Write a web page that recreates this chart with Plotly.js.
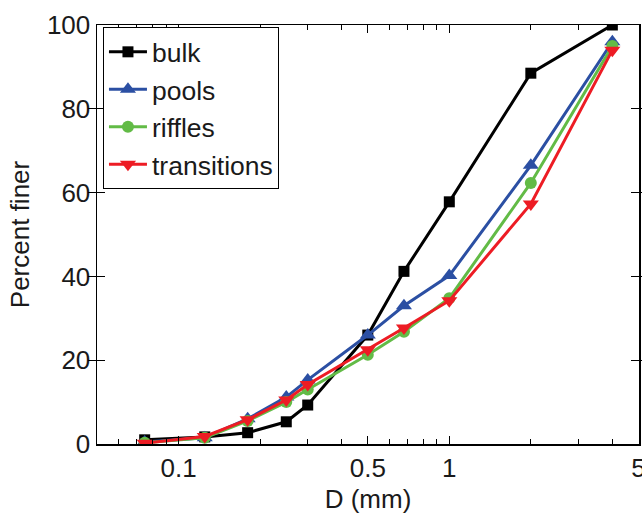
<!DOCTYPE html>
<html>
<head>
<meta charset="utf-8">
<script src="https://cdn.plot.ly/plotly-3.0.1.min.js"></script>
<style>html,body{margin:0;padding:0;background:#fff;}#chart{width:642px;height:516px;}</style>
</head>
<body>
<div id="chart"></div>
<script>
const diameters = [0.075, 0.125, 0.18, 0.25, 0.3, 0.5, 0.68, 1, 2, 4];
const bulk = [1.0, 1.7, 2.7, 5.3, 9.3, 26, 41.2, 57.8, 88.5, 100];
const pools = [0.5, 1.5, 6.0, 11.2, 15.3, 26, 33.0, 40.2, 66.5, 96];
const riffles = [0.3, 1.5, 5.5, 10, 13, 21.3, 26.8, 34.8, 62.3, 95];
const transitions = [0.2, 1.8, 5.8, 10.5, 14.2, 22.5, 27.7, 34.2, 57.3, 94];
const seriesNames = ['bulk', 'pools', 'riffles', 'transitions'];
const xTickVals = [0.1, 0.5, 1, 5];
const xTickText = ['0.1', '0.5', '1', '5'];
const xMinorVals = [0.06, 0.07, 0.08, 0.09, 0.2, 0.3, 0.4, 0.6, 0.7, 0.8, 0.9, 2, 3, 4];

const colors = ['#000000', '#2b4fa3', '#62bb46', '#ed1c24'];
const symbols = ['square', 'triangle-up', 'circle', 'triangle-down'];
const sizes = [11, 14, 12, 14];
const ys = [bulk, pools, riffles, transitions];

const traces = seriesNames.map((n, i) => ({
  x: diameters, y: ys[i], name: n, type: 'scatter', mode: 'lines+markers',
  line: {color: colors[i], width: 3},
  marker: {color: colors[i], symbol: symbols[i], size: sizes[i]}
}));
// invisible helper trace so the top axis (mirror ticks) is drawn
traces.push({x: diameters, y: bulk, xaxis: 'x2', yaxis: 'y', mode: 'markers',
  marker: {opacity: 0}, showlegend: false, hoverinfo: 'skip'});

const fam = 'Liberation Sans, Arial, sans-serif';
const txt = '#1a1a1a';
const xRange = [Math.log10(0.05), Math.log10(5) + 0.0015];
const layout = {
  width: 642, height: 516,
  margin: {l: 97, r: 3, t: 25, b: 72},
  paper_bgcolor: '#fff', plot_bgcolor: '#fff',
  font: {family: fam, size: 26, color: txt},
  showlegend: true,
  legend: {x: 0.011, y: 0.995, xanchor: 'left', yanchor: 'top', bgcolor: '#fff',
           bordercolor: '#000', borderwidth: 1, font: {family: fam, size: 26.5, color: txt},
           itemwidth: 38, tracegroupgap: 0},
  xaxis: {type: 'log', range: xRange,
          tickmode: 'array', tickvals: xTickVals, ticktext: xTickText,
          ticks: 'inside', ticklen: 8, tickcolor: '#000', tickwidth: 1,
          ticklabeloverflow: 'allow',
          showline: true, linecolor: '#000', linewidth: 1.5, mirror: true,
          showgrid: false, zeroline: false,
          minor: {tickmode: 'array', tickvals: xMinorVals, ticks: 'inside', ticklen: 5, tickcolor: '#000', showgrid: false},
          title: {text: 'D (mm)', font: {family: fam, size: 26, color: txt}, standoff: 8},
          tickfont: {family: fam, size: 26, color: txt}},
  xaxis2: {type: 'log', range: xRange, overlaying: 'x', side: 'top', anchor: 'y',
          tickmode: 'array', tickvals: xTickVals, showticklabels: false,
          ticks: 'inside', ticklen: 8, tickcolor: '#000', tickwidth: 1,
          showline: false, showgrid: false, zeroline: false,
          minor: {tickmode: 'array', tickvals: xMinorVals, ticks: 'inside', ticklen: 5, tickcolor: '#000', showgrid: false}},
  yaxis: {range: [0, 100], tickmode: 'linear', tick0: 0, dtick: 20,
          ticks: 'inside', ticklen: 8, tickcolor: '#000',
          showline: true, linecolor: '#000', linewidth: 1.5, mirror: 'allticks',
          showgrid: false, zeroline: false,
          title: {text: 'Percent finer', font: {family: fam, size: 26, color: txt}, standoff: 10},
          tickfont: {family: fam, size: 26, color: txt}}
};
Plotly.newPlot('chart', traces, layout, {displayModeBar: false, staticPlot: true});
</script>
</body>
</html>
